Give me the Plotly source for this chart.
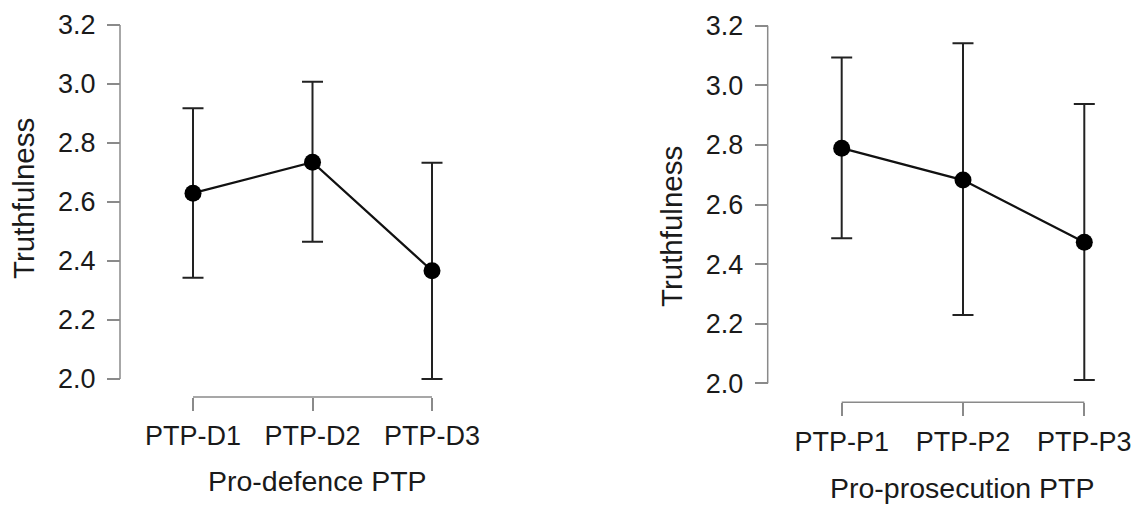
import plotly.graph_objects as go

# Data
defence_cats = ["PTP-D1", "PTP-D2", "PTP-D3"]
defence_mean = [2.63, 2.735, 2.367]
defence_lower = [2.343, 2.465, 2.0]
defence_upper = [2.918, 3.008, 2.733]

prosec_cats = ["PTP-P1", "PTP-P2", "PTP-P3"]
prosec_mean = [2.789, 2.682, 2.473]
prosec_lower = [2.487, 2.229, 2.011]
prosec_upper = [3.093, 3.141, 2.937]

y_ticks = [2.0, 2.2, 2.4, 2.6, 2.8, 3.0, 3.2]
y_title = "Truthfulness"
x_title_left = "Pro-defence PTP"
x_title_right = "Pro-prosecution PTP"

W, H = 1138, 505
FONT = "Liberation Sans, Arial, sans-serif"
TXT = "#1a1a1a"
AX = "#8a8a8a"
XPAD = 0.15   # category units of padding so error-bar caps aren't clipped
YPAD = 0.05


def trace(cats, mean, lower, upper, xa, ya):
    return go.Scatter(
        x=cats, y=mean, xaxis=xa, yaxis=ya,
        mode="lines+markers",
        line=dict(color="#111111", width=2.3),
        marker=dict(color="#000000", size=17),
        error_y=dict(
            type="data", symmetric=False,
            array=[u - m for u, m in zip(upper, mean)],
            arrayminus=[m - l for m, l in zip(mean, lower)],
            color="#222222", thickness=2, width=10.5,
        ),
        cliponaxis=False, showlegend=False,
    )


def panel(ncat, px_first, px_last, py_top, py_bot, px_yaxis, py_xaxis):
    """Pixel layout of one panel -> axis dicts (domains in paper units)."""
    ppx = (px_last - px_first) / (ncat - 1)
    ppy = (py_bot - py_top) / (y_ticks[-1] - y_ticks[0])
    xdom = [(px_first - XPAD * ppx) / W, (px_last + XPAD * ppx) / W]
    ydom = [1 - (py_bot + YPAD * ppy) / H, 1 - (py_top - YPAD * ppy) / H]
    return xdom, ydom, px_yaxis / W, 1 - py_xaxis / H


xcommon = dict(
    type="category", showgrid=False, zeroline=False, showline=False,
    ticks="outside", ticklen=13, tickwidth=1.5,
    tickcolor=AX, tickfont=dict(family=FONT, size=27, color=TXT),
    range=[-XPAD, 2 + XPAD], anchor="free", ticklabelstandoff=2, automargin=False,
)
ycommon = dict(
    showgrid=False, zeroline=False, showline=False,
    ticks="outside", ticklen=13, tickwidth=1.5, tickcolor=AX,
    tickfont=dict(family=FONT, size=27, color=TXT),
    tickvals=y_ticks, ticktext=[f"{v:.1f}" for v in y_ticks],
    range=[y_ticks[0] - YPAD, y_ticks[-1] + YPAD], anchor="free",
    ticklabelstandoff=6, automargin=False,
)

xd1, yd1, yp1, xp1 = panel(len(defence_cats), 193, 432, 25, 379, 120, 397)
xd2, yd2, yp2, xp2 = panel(len(prosec_cats), 841.7, 1084.3, 25.7, 383.3, 767.7, 402.3)

fig = go.Figure()
fig.add_trace(trace(defence_cats, defence_mean, defence_lower, defence_upper, "x", "y"))
fig.add_trace(trace(prosec_cats, prosec_mean, prosec_lower, prosec_upper, "x2", "y2"))

shapes = []
for xr, yr, ncat, yp, xp in (("x", "y", len(defence_cats), yp1, xp1),
                             ("x2", "y2", len(prosec_cats), yp2, xp2)):
    # axis lines spanning only first..last tick (R style)
    shapes.append(dict(type="line", xref="paper", yref=yr, x0=yp, x1=yp,
                       y0=y_ticks[0], y1=y_ticks[-1],
                       line=dict(color=AX, width=1.5)))
    shapes.append(dict(type="line", xref=xr, yref="paper", x0=0, x1=ncat - 1,
                       y0=xp, y1=xp, line=dict(color=AX, width=1.5)))

fig.update_layout(
    width=W, height=H,
    margin=dict(l=0, r=0, t=0, b=0, pad=0),
    paper_bgcolor="white", plot_bgcolor="white",
    xaxis=dict(xcommon, domain=xd1, position=xp1),
    yaxis=dict(ycommon, domain=yd1, position=yp1),
    xaxis2=dict(xcommon, domain=xd2, position=xp2),
    yaxis2=dict(ycommon, domain=yd2, position=yp2),
    shapes=shapes,
    annotations=[
        dict(text=y_title, x=23 / W, y=1 - 199 / H, xref="paper", yref="paper",
             textangle=-90, showarrow=False, xanchor="center", yanchor="middle",
             font=dict(family=FONT, size=29.5, color=TXT)),
        dict(text=y_title, x=672 / W, y=1 - 227 / H, xref="paper", yref="paper",
             textangle=-90, showarrow=False, xanchor="center", yanchor="middle",
             font=dict(family=FONT, size=29.5, color=TXT)),
        dict(text=x_title_left, x=317 / W, y=1 - 481 / H, xref="paper", yref="paper",
             showarrow=False, xanchor="center", yanchor="middle",
             font=dict(family=FONT, size=28.5, color=TXT)),
        dict(text=x_title_right, x=962 / W, y=1 - 488 / H, xref="paper", yref="paper",
             showarrow=False, xanchor="center", yanchor="middle",
             font=dict(family=FONT, size=28.5, color=TXT)),
    ],
)

fig.write_html(
    "out.html",
    config={"displayModeBar": False},
    post_script="document.body.style.margin='0';document.body.style.overflow='hidden';",
)
